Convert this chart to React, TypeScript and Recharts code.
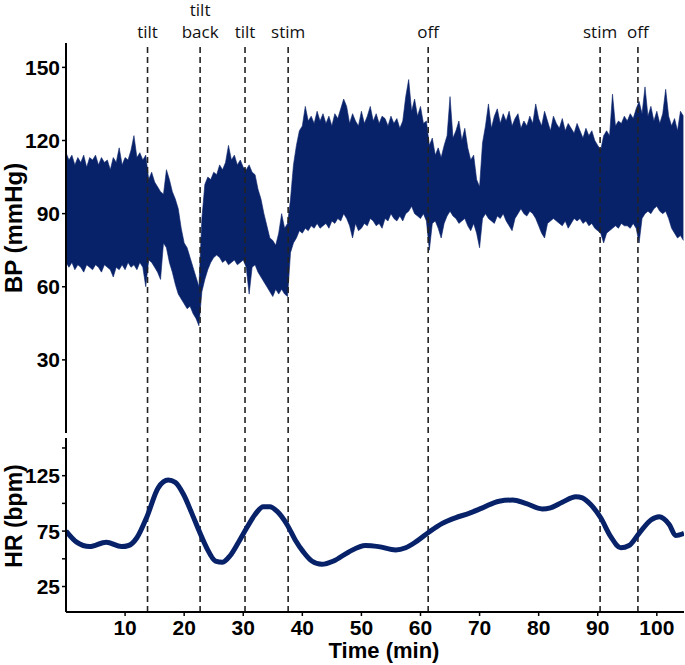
import React from "react";
import {
  ComposedChart, Area, Line, XAxis, YAxis, ReferenceLine,
} from "recharts";

/* ─── Data ───────────────────────────────────────────────────────────────── */
// BP envelope, sampled every half minute from t = 0
const BP_STEP = 0.5;
const bpHigh = [
  115, 112, 114, 110, 113, 111, 114, 109, 113, 112,
  114, 110, 113, 111, 112, 108, 113, 111, 117, 110,
  113, 112, 116, 122, 113, 115, 112, 114, 104, 107,
  103, 101, 99, 98, 108, 104, 99, 96, 92, 84,
  78, 76, 72, 68, 64, 60, 88, 102, 105, 104,
  107, 106, 110, 108, 111, 118, 112, 114, 110, 112,
  109, 108, 110, 107, 106, 100, 96, 90, 85, 80,
  79, 77, 82, 90, 84, 86, 96, 110, 118, 124,
  126, 134, 128, 130, 127, 132, 128, 131, 127, 130,
  126, 131, 129, 133, 137, 134, 127, 131, 128, 126,
  132, 127, 130, 134, 128, 131, 127, 130, 129, 126,
  130, 127, 129, 125, 128, 138, 145, 132, 137, 130,
  134, 127, 128, 118, 121, 114, 117, 113, 118, 122,
  138, 121, 124, 128, 120, 125, 117, 112, 114, 104,
  101, 119, 126, 135, 125, 130, 133, 127, 131, 128,
  132, 126, 129, 131, 125, 128, 126, 130, 127, 135,
  129, 126, 132, 128, 124, 130, 127, 125, 129, 124,
  127, 125, 123, 127, 124, 121, 125, 122, 124, 120,
  118, 116, 122, 124, 122, 139, 126, 128, 127, 130,
  128, 131, 129, 133, 136, 131, 142, 130, 134, 128,
  132, 127, 131, 141, 130, 126, 129, 124, 132, 130,
];
const bpLow = [
  70, 68, 70, 67, 69, 68, 66, 69, 68, 67,
  69, 68, 66, 69, 68, 67, 64, 68, 67, 69,
  67, 70, 68, 69, 67, 70, 68, 60, 71, 70,
  68, 66, 63, 78, 76, 70, 66, 61, 57, 55,
  53, 51, 52, 49, 47, 44, 58, 63, 67, 70,
  72, 73, 72, 70, 71, 69, 70, 71, 69, 70,
  71, 68, 57, 68, 69, 66, 64, 62, 60, 58,
  56, 59, 57, 59, 57, 56, 74, 78, 80, 83,
  82, 84, 83, 85, 84, 86, 84, 85, 86, 84,
  87, 86, 88, 87, 90, 88, 85, 80, 86, 83,
  84, 86, 85, 88, 87, 85, 86, 84, 88, 87,
  90, 88, 87, 89, 87, 90, 91, 93, 90, 89,
  88, 90, 87, 75, 86, 87, 84, 80, 86, 89,
  91, 89, 88, 86, 87, 88, 85, 83, 86, 82,
  76, 88, 90, 88, 87, 86, 89, 88, 90, 87,
  85, 83, 88, 90, 92, 90, 89, 91, 90, 88,
  85, 82, 80, 86, 87, 88, 87, 86, 85, 87,
  84, 86, 88, 87, 88, 86, 87, 85, 86, 84,
  83, 82, 78, 82, 83, 84, 85, 84, 86, 85,
  85, 84, 86, 84, 78, 88, 90, 91, 90, 92,
  93, 91, 90, 91, 88, 84, 82, 80, 81, 79,
];

// HR trace
const hrTime = [
  0, 1.8, 4, 6.8, 9.4, 10.6, 12, 13.7, 15.6, 17.3, 18.5, 19.9, 21.3, 22.7,
  23.8, 25.3, 26.5, 27.8, 29.2, 30.6, 32, 33.4, 34.5, 35.7, 37.4, 38.8,
  40.2, 41.6, 43.3, 45.3, 47.8, 50.7, 52.9, 55.8, 57.5, 59.4, 61.4, 63.7,
  65.9, 68.2, 70.5, 73.3, 75.6, 77.8, 80.6, 82, 84, 86.3, 87.4, 88.8, 90.5,
  92.2, 93.9, 95.3, 97, 99, 100.4, 102.1, 103.2, 104.6,
];
const hrValue = [
  75, 65, 61, 65, 61, 62, 69, 88, 114, 121, 119, 108, 91, 73,
  60, 48, 47, 53, 65, 78, 90, 97, 97, 93, 81, 67,
  56, 48, 45, 48, 56, 62, 61, 58, 60, 66, 74, 82,
  87, 91, 96, 102, 103, 100, 95, 96, 101, 106, 105, 99, 87,
  70, 60, 62, 73, 85, 88, 81, 71, 73,
];

// events
const eventTimes = [13.8, 22.7, 30.3, 37.6, 61.3, 90.4, 96.8];
const eventLabels = [["tilt"], ["tilt", "back"], ["tilt"], ["stim"], ["off"], ["stim"], ["off"]];

const xTicks = [10, 20, 30, 40, 50, 60, 70, 80, 90, 100];
const bpTicks = [30, 60, 90, 120, 150];
const hrTicks = [25, 50, 75, 100, 125, 150];
const hrLabelled = [25, 75, 125];

const bpData = bpHigh.map((h, i) => ({ t: i * BP_STEP, range: [bpLow[i], h] }));
const hrData = hrTime.map((t, i) => ({ t, hr: hrValue[i] }));

/* ─── Styles ─────────────────────────────────────────────────────────────── */
const NAVY = "#08226a";
const X_DOMAIN: [number, number] = [0, 104.6];
const FONT = "'Liberation Sans', Arial, sans-serif";

const tickStyle = { fontFamily: FONT, fontSize: 21, fontWeight: 700, fill: "#000" };
const axisLine = { stroke: "#000", strokeWidth: 2 };
const tickLine = { stroke: "#000", strokeWidth: 1.5 };

/* ─── Labels ─────────────────────────────────────────────────────────────── */
function EventLabel({ viewBox, lines }: any) {
  const x = viewBox?.x ?? 0;
  const last = 38;
  return (
    <text
      x={x}
      textAnchor="middle"
      fontFamily="'Open Sans', 'Noto Sans', sans-serif"
      fontSize={17}
      fill="#111"
    >
      {lines.map((ln: string, i: number) => (
        <tspan key={i} x={x} y={last - (lines.length - 1 - i) * 22}>{ln}</tspan>
      ))}
    </text>
  );
}

function AxisTitle({ titleX, titleY, text, size }: any) {
  return (
    <text
      x={titleX}
      y={titleY}
      transform={`rotate(-90 ${titleX} ${titleY})`}
      textAnchor="middle"
      fontFamily={FONT}
      fontSize={size}
      fontWeight={700}
      fill="#000"
    >
      {text}
    </text>
  );
}

function TimeTitle() {
  return (
    <text x={384} y={225} textAnchor="middle" fontFamily={FONT} fontSize={22} fontWeight={700} fill="#000">
      Time (min)
    </text>
  );
}

export default function App() {
  return (
    <div style={{ position: "absolute", left: 0, top: 0, width: 685, height: 665, background: "#fff" }}>
      {/* BP panel */}
      <div style={{ position: "absolute", left: 0, top: 0 }}>
        <ComposedChart
          width={685}
          height={440}
          data={bpData}
          margin={{ top: 43, right: 1, bottom: 7, left: 0 }}
        >
          <XAxis type="number" dataKey="t" domain={X_DOMAIN} allowDataOverflow hide />
          <YAxis
            domain={[0, 160]}
            ticks={bpTicks}
            width={66}
            tick={tickStyle}
            axisLine={axisLine}
            tickLine={tickLine}
            tickSize={4}
            tickMargin={2}
            label={<AxisTitle titleX={22} titleY={228} size={24} text="BP (mmHg)" />}
          />
          <Area
            type="linear"
            dataKey="range"
            fill={NAVY}
            fillOpacity={1}
            stroke={NAVY}
            strokeWidth={0.6}
            isAnimationActive={false}
          />
          {eventTimes.map((t, i) => (
            <ReferenceLine
              key={t}
              x={t}
              stroke="#222"
              strokeWidth={1.6}
              strokeDasharray="6 4"
              label={<EventLabel lines={eventLabels[i]} />}
            />
          ))}
        </ComposedChart>
      </div>

      {/* HR panel */}
      <div style={{ position: "absolute", left: 0, top: 433 }}>
        <ComposedChart
          width={685}
          height={232}
          data={hrData}
          margin={{ top: 5, right: 1, bottom: 0, left: 0 }}
        >
          <XAxis
            type="number"
            dataKey="t"
            domain={X_DOMAIN}
            allowDataOverflow
            ticks={xTicks}
            height={53}
            tick={tickStyle}
            axisLine={axisLine}
            tickLine={tickLine}
            tickSize={4}
            tickMargin={4}
            label={<TimeTitle />}
          />
          <YAxis
            domain={[2, 159]}
            ticks={hrTicks}
            tickFormatter={(v: number) => (hrLabelled.includes(v) ? String(v) : "")}
            width={66}
            tick={tickStyle}
            axisLine={axisLine}
            tickLine={tickLine}
            tickSize={4}
            tickMargin={2}
            label={<AxisTitle titleX={22} titleY={83} size={23} text="HR (bpm)" />}
          />
          {eventTimes.map((t) => (
            <ReferenceLine
              key={t}
              x={t}
              stroke="#222"
              strokeWidth={1.6}
              strokeDasharray="6 4"
            />
          ))}
          <Line
            type="monotone"
            dataKey="hr"
            stroke={NAVY}
            strokeWidth={5}
            dot={false}
            isAnimationActive={false}
          />
        </ComposedChart>
      </div>
    </div>
  );
}
